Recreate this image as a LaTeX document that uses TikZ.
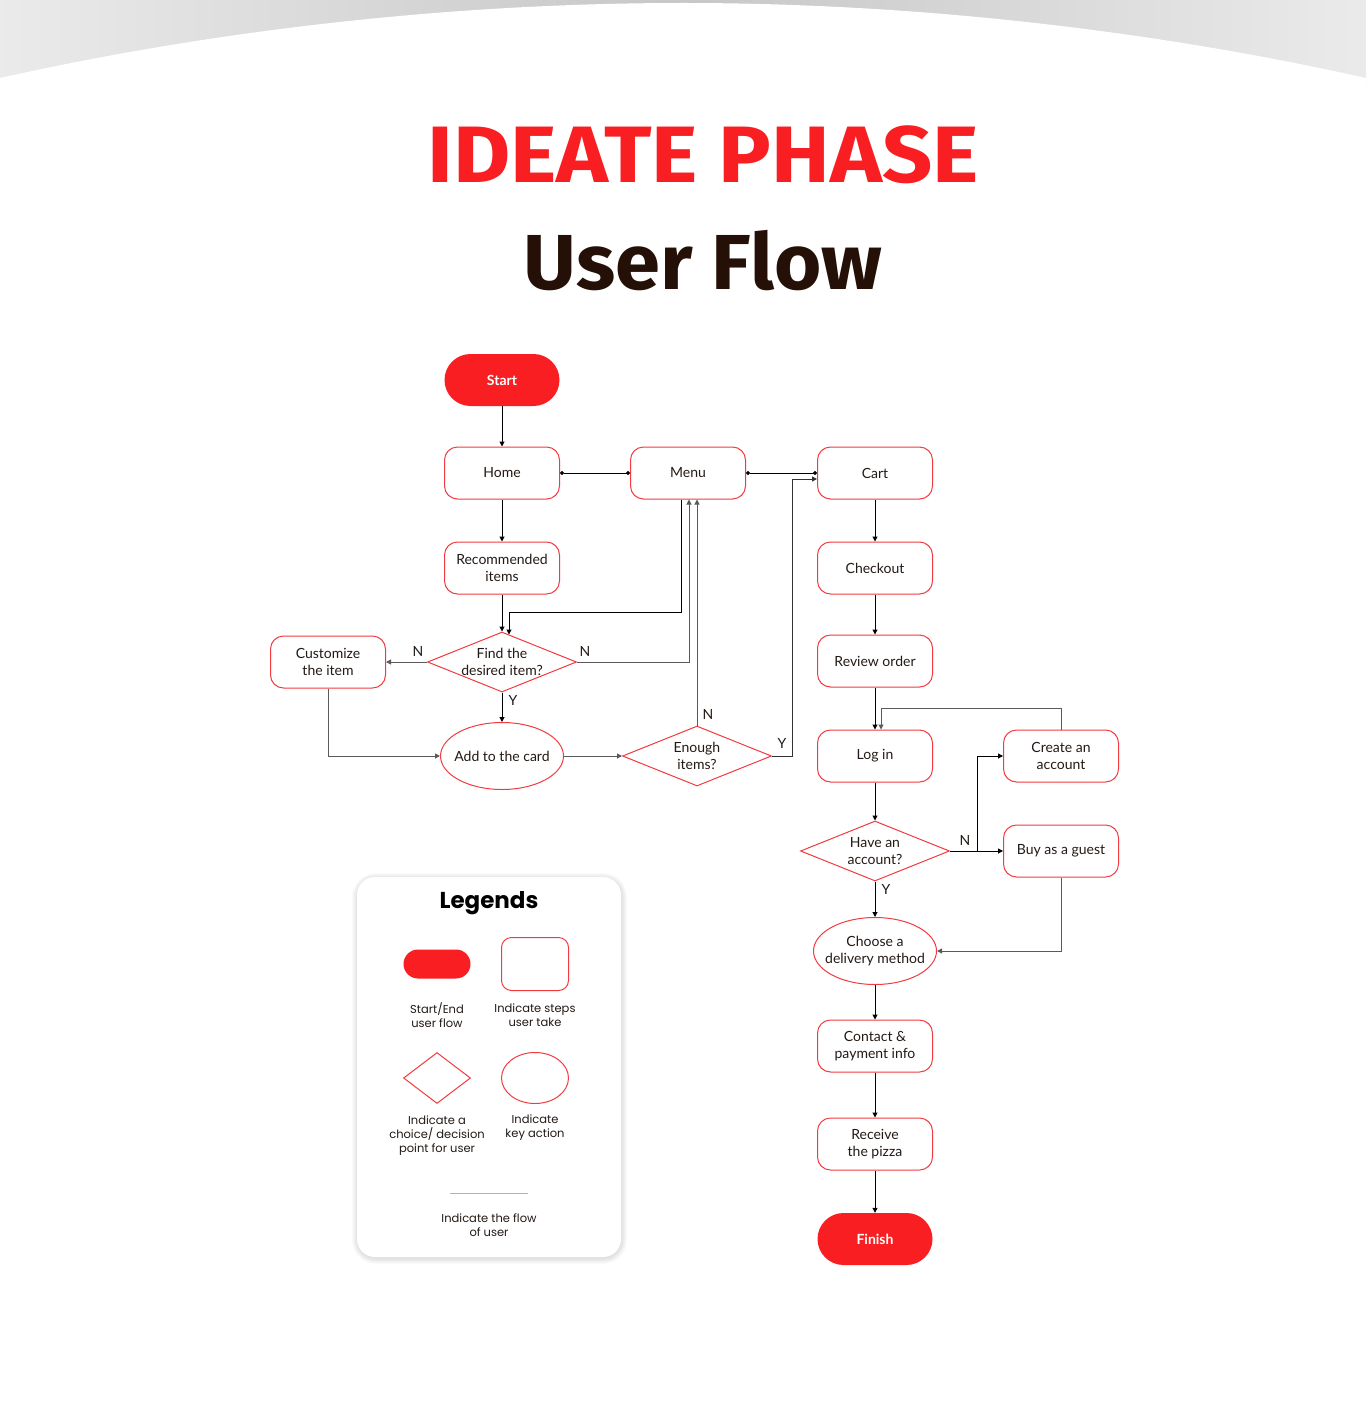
\documentclass[tikz,border=0pt]{standalone}
\usepackage{fontspec}
\setmainfont{Lato}
\newfontfamily\titlefont{Fira Sans}
\newfontfamily\legfont{Poppins}
\usetikzlibrary{shapes.geometric,arrows.meta,calc}
\definecolor{mainred}{HTML}{F91E21}
\definecolor{bordred}{HTML}{F23B40}
\definecolor{ink}{HTML}{231A15}
\definecolor{titlebrown}{HTML}{241006}
\definecolor{flowgray}{HTML}{5A5A5A}
\begin{document}
\begin{tikzpicture}[x=1pt,y=-1pt,
 body/.style={font=\fontsize{14}{17}\selectfont, text=ink, align=center},
 stepbox/.style={body, draw=bordred, line width=1pt, rounded corners=13pt, minimum width=115pt, minimum height=52pt, fill=white, inner sep=0pt},
 pill/.style={fill=mainred, rounded corners=26pt, minimum width=115pt, minimum height=52pt, inner sep=0pt, text=white, font=\fontsize{14}{17}\selectfont\bfseries},
 dia/.style={draw=bordred, line width=1pt, diamond, minimum width=149pt, minimum height=60pt, inner sep=0pt, fill=white},
 keyact/.style={draw=bordred, line width=1pt, ellipse, minimum width=123pt, minimum height=67pt, inner sep=0pt, fill=white},
 inlbl/.style={body},
 yn/.style={font=\fontsize{14}{17}\selectfont, text=ink, inner sep=0pt},
 arr/.style={draw=black, line width=1pt, -{Triangle[length=5pt,width=5pt]}},
 arrg/.style={arr, draw=flowgray},
 dotline/.style={draw=black, line width=1pt, {Circle[length=4pt]}-{Circle[length=4pt]}},
 legtxt/.style={font=\legfont\fontsize{11.5}{14}\selectfont, text=ink, align=center, inner sep=0pt}
]
\useasboundingbox (0,0) rectangle (1366,1415);
\fill[white] (0,0) rectangle (1366,1415);
% top band
\shade[left color=black!8, right color=black!8, middle color=black!22] (0,0) rectangle (1366,90);
\fill[white] (0,78) parabola bend (683,3) (1366,78) -- (1366,92) -- (0,92) -- cycle;

% titles
\node[inner sep=0pt, font=\titlefont\fontsize{80}{90}\selectfont\bfseries, text=mainred] (title) at (703,155) {\scalebox{1.1}[1]{IDEATE PHASE}};
\node[inner sep=0pt, font=\titlefont\fontsize{78}{90}\selectfont\bfseries, text=titlebrown] (subtitle) at (703,261) {\scalebox{1.04}[1]{User Flow}};

% nodes
\node[pill] (start) at (502,380) {Start};
\node[stepbox] (home) at (502,473) {Home};
\node[stepbox] (menu) at (688,473) {Menu};
\node[stepbox] (cart) at (875,473) {Cart};
\node[stepbox] (rec) at (502,568) {Recommended\\items};
\node[dia, label={[inlbl]center:{Find the\\desired item?}}] (find) at (502,662) {};
\node[stepbox] (cust) at (328,662) {Customize\\the item};
\node[keyact, label={[inlbl]center:{Add to the card}}] (add) at (502,756) {};
\node[dia, label={[inlbl]center:{Enough\\items?}}] (enough) at (697,756) {};
\node[stepbox] (checkout) at (875,568) {Checkout};
\node[stepbox] (review) at (875,661) {Review order};
\node[stepbox] (login) at (875,756) {Log in};
\node[stepbox] (create) at (1061,756) {Create an\\account};
\node[dia, label={[inlbl]center:{Have an\\account?}}] (have) at (875,851) {};
\node[stepbox] (guest) at (1061,851) {Buy as a guest};
\node[keyact, label={[inlbl]center:{Choose a\\delivery method}}] (choose) at (875,951) {};
\node[stepbox] (contact) at (875,1046) {Contact \&\\payment info};
\node[stepbox] (receive) at (875,1144) {Receive\\the pizza};
\node[pill] (finish) at (875,1239) {Finish};

% connectors
\draw[arr] (start) -- (home);
\draw[dotline] (home.east) -- (menu.west);
\draw[dotline] (menu.east) -- (cart.west);
\draw[arr] (home) -- (rec);
\draw[arr] (rec) -- (find.north);
\draw[arr] ($(menu.south)+(-7,0)$) -- ++(0,113) -| ($(find.north)+(7,3)$);
\draw[arrg] (find.east) -| ($(menu.south)+(1,0)$);
\draw[arrg] (find.west) -- (cust.east);
\draw[arr] (find.south) -- (add.north);
\draw[arrg] (cust.south) |- (add.west);
\draw[arrg] (add.east) -- (enough.west);
\draw[arrg] (enough.north) -- (enough.north |- menu.south);
\draw[arr, draw=black!80] (enough.east) -- ++(20,0) |- ($(cart.west)+(0,6)$);
\draw[arr] (cart) -- (checkout);
\draw[arr] (checkout) -- (review);
\draw[arr] (review) -- (login);
\draw[arrg] (create.north) -- ++(0,-21) -| ($(login.north)+(6,0)$);
\draw[arr] (login) -- (have.north);
\draw[arr] (have.east) -- (guest.west);
\draw[arr] ($(have.east)+(27,0)$) |- (create.west);
\draw[arr] (have.south) -- (choose.north);
\draw[arrg] (guest.south) |- (choose.east);
\draw[arr] (choose) -- (contact);
\draw[arr] (contact) -- (receive);
\draw[arr] (receive) -- (finish);

% Y/N labels
\node[yn] (n1) at (418,651) {N};
\node[yn] (n2) at (585,651) {N};
\node[yn] (y1) at (513,700) {Y};
\node[yn] (n3) at (708,714) {N};
\node[yn] (y2) at (782,743) {Y};
\node[yn] (n4) at (965,840) {N};
\node[yn] (y3) at (886,889) {Y};

% legend
\foreach \s in {1,...,6}
  \fill[black, opacity=0.018, rounded corners={18+\s}] ({357-\s+1},{877-\s+2}) rectangle ({621+\s},{1257+\s+1});
\node[fill=white, rounded corners=18pt, minimum width=264pt, minimum height=380pt, inner sep=0pt] (legbox) at (489,1067) {};
\node[inner sep=0pt, text=black, font=\legfont\fontsize{23}{26}\selectfont\bfseries] (legtitle) at (489,903) {Legends};
\node[pill, minimum width=67pt, minimum height=29pt, rounded corners=14.5pt] (lgpill) at (437,964) {};
\node[stepbox, minimum width=67pt, minimum height=53pt, rounded corners=10pt] (lgstep) at (535,964) {};
\node[dia, minimum width=67pt, minimum height=51pt] (lgdia) at (437,1078) {};
\node[keyact, minimum width=67pt, minimum height=51pt] (lgkey) at (535,1078) {};
\node[legtxt] (lt1) at (437,1015) {Start/End\\user flow};
\node[legtxt] (lt2) at (535,1015) {Indicate steps\\user take};
\node[legtxt] (lt3) at (437,1136) {Indicate a\\choice/ decision\\point for user};
\node[legtxt] (lt4) at (535,1128) {Indicate\\key action};
\coordinate (lgl1) at (450,1193);
\coordinate (lgl2) at (528,1193);
\draw[black!30, line width=1pt] (lgl1) -- (lgl2);
\node[legtxt] (lt5) at (489,1225) {Indicate the flow\\of user};
\end{tikzpicture}
\end{document}
